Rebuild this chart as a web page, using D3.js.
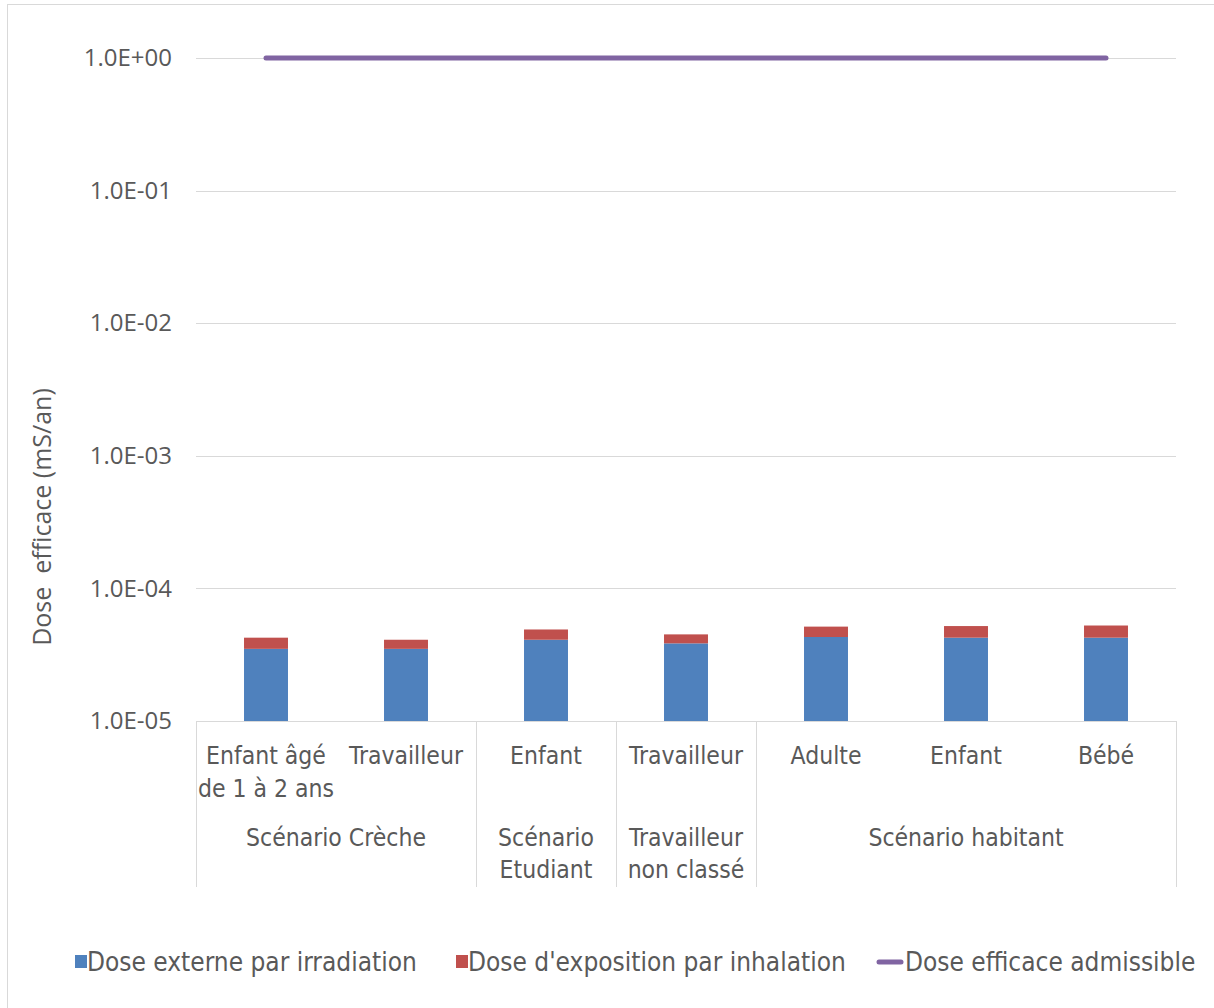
<!DOCTYPE html>
<html><head><meta charset="utf-8">
<script src="https://cdn.jsdelivr.net/npm/d3@7"></script>
<style>
html,body{margin:0;padding:0;background:#fff;}
svg{display:block;}
</style></head>
<body>
<svg id="chart" width="1214" height="1008"></svg>
<script>
// ---- data ----
const categories = [["Enfant âgé","de 1 à 2 ans"],["Travailleur"],["Enfant"],["Travailleur"],["Adulte"],["Enfant"],["Bébé"]];
const groupLabels = [["Scénario Crèche"],["Scénario","Etudiant"],["Travailleur","non classé"],["Scénario habitant"]];
const groupSpans = [2,1,1,3];
const irradiation = [3.5e-5, 3.5e-5, 4.1e-5, 3.85e-5, 4.3e-5, 4.25e-5, 4.25e-5];
const inhalation  = [0.75e-5, 0.6e-5, 0.8e-5, 0.65e-5, 0.85e-5, 0.95e-5, 1.0e-5];
const admissible  = [1, 1, 1, 1, 1, 1, 1];
const yTicks = [1e-5, 1e-4, 1e-3, 1e-2, 1e-1, 1];
const yTickLabels = ["1.0E-05","1.0E-04","1.0E-03","1.0E-02","1.0E-01","1.0E+00"];
const seriesNames = ["Dose externe par irradiation","Dose d'exposition par inhalation","Dose efficace admissible"];
const yTitle = "Dose\u00a0 efficace (mS/an)";

(function(){
const colors = {blue:"#4f81bd", red:"#c0504d", purple:"#8064a2", grid:"#d9d9d9", text:"#595959"};
const narrow = "'Liberation Sans Narrow','DejaVu Sans Condensed',sans-serif";
const openSans = "'Open Sans','Noto Sans',sans-serif";

const svg = d3.select("#chart");
svg.append("rect").attr("x",7.5).attr("y",4.5).attr("width",1300).attr("height",1100)
  .attr("fill","none").attr("stroke","#d9d9d9").attr("stroke-width",1);

const pLeft=196, pRight=1176, pTop=58, pBottom=721;
const idx = d3.range(categories.length);
const x = d3.scaleBand().domain(idx).range([pLeft,pRight]).paddingInner(0.686).paddingOuter(0.343);
const xStep = d3.scaleBand().domain(idx).range([pLeft,pRight]).padding(0);
const y = d3.scaleLog().domain([1e-5,1]).range([pBottom,pTop]);

svg.append("g").selectAll("line").data(yTicks.slice(1)).join("line")
  .attr("x1",pLeft).attr("x2",pRight).attr("y1",d=>Math.round(y(d))+0.5).attr("y2",d=>Math.round(y(d))+0.5)
  .attr("stroke",colors.grid).attr("stroke-width",1);

const yAxis = d3.axisLeft(y).tickValues(yTicks).tickSize(0).tickPadding(0)
  .tickFormat((d,i)=>yTickLabels[i]);
const gy = svg.append("g").attr("transform",`translate(172,0)`).call(yAxis);
gy.select(".domain").remove();
gy.selectAll("text").attr("font-family",openSans).attr("font-size",24).attr("fill",colors.text);

svg.append("text").attr("transform","translate(51,517) rotate(-90)")
  .attr("text-anchor","middle").attr("font-family",openSans).attr("font-size",25)
  .attr("fill",colors.text).text(yTitle);

const gBars = svg.append("g");
gBars.selectAll("rect.irr").data(irradiation).join("rect").attr("class","irr")
  .attr("x",(d,i)=>x(i)).attr("width",x.bandwidth())
  .attr("y",d=>y(d)).attr("height",d=>y(1e-5)-y(d)).attr("fill",colors.blue);
gBars.selectAll("rect.inh").data(inhalation).join("rect").attr("class","inh")
  .attr("x",(d,i)=>x(i)).attr("width",x.bandwidth())
  .attr("y",(d,i)=>y(irradiation[i]+d)).attr("height",(d,i)=>y(irradiation[i])-y(irradiation[i]+d))
  .attr("fill",colors.red);

svg.append("line").attr("x1",pLeft).attr("x2",pRight).attr("y1",pBottom+0.5).attr("y2",pBottom+0.5)
  .attr("stroke",colors.grid);

const line = d3.line().x((d,i)=>x(i)+x.bandwidth()/2).y(d=>y(d));
svg.append("path").datum(admissible).attr("d",line).attr("fill","none")
  .attr("stroke",colors.purple).attr("stroke-width",5).attr("stroke-linecap","round");

const catFont = 24.5;
const gCat = svg.append("g");
categories.forEach((lines,i)=>{
  const cx = xStep(i)+xStep.bandwidth()/2;
  const t = gCat.append("text").attr("x",cx).attr("y",764)
    .attr("text-anchor","middle").attr("font-family",narrow).attr("font-size",catFont).attr("fill",colors.text);
  lines.forEach((l,j)=>t.append("tspan").attr("x",cx).attr("dy",j?33:0).text(l));
});
let start=0;
const seps=[pLeft];
groupLabels.forEach((lines,g)=>{
  const x0 = xStep(start), x1 = xStep(start+groupSpans[g]-1)+xStep.bandwidth();
  const t = gCat.append("text").attr("x",(x0+x1)/2).attr("y",846)
    .attr("text-anchor","middle").attr("font-family",narrow).attr("font-size",catFont).attr("fill",colors.text);
  lines.forEach((l,j)=>t.append("tspan").attr("x",(x0+x1)/2).attr("dy",j?32:0).text(l));
  start += groupSpans[g];
  seps.push(x1);
});
svg.append("g").selectAll("line").data(seps).join("line")
  .attr("x1",d=>Math.round(d)+0.5).attr("x2",d=>Math.round(d)+0.5).attr("y1",pBottom).attr("y2",887)
  .attr("stroke",colors.grid);

const leg = svg.append("g");
const legY = 962;
const legItems = [{x:75, type:"rect", c:colors.blue},{x:456, type:"rect", c:colors.red},{x:876, type:"line", c:colors.purple}];
legItems.forEach((it,i)=>{
  if(it.type==="rect") leg.append("rect").attr("x",it.x).attr("y",legY-7).attr("width",12).attr("height",13).attr("fill",it.c);
  else leg.append("line").attr("x1",it.x+3).attr("x2",it.x+25).attr("y1",legY).attr("y2",legY)
    .attr("stroke",it.c).attr("stroke-width",5).attr("stroke-linecap","round");
  leg.append("text").attr("x",it.type==="rect"?it.x+12:it.x+29).attr("y",legY).attr("dy","0.35em")
    .attr("font-family",narrow).attr("font-size",26).attr("fill",colors.text).text(seriesNames[i]);
});
})();
</script>
</body></html>
